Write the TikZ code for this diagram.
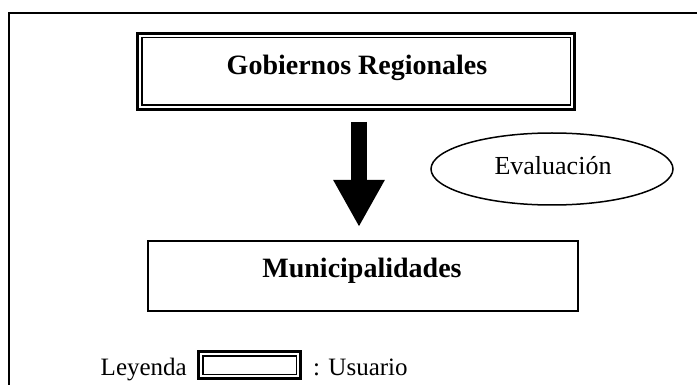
\documentclass[tikz,border=0pt]{standalone}
\usepackage{fontspec}
\setmainfont{Liberation Serif}
\usetikzlibrary{shapes.geometric,arrows.meta,calc}
\begin{document}
\begin{tikzpicture}[x=1pt,y=-1pt,
  dblouter/.style={draw, rectangle, line width=3pt, inner sep=0pt, outer sep=0pt},
  dblinner/.style={line width=1.5pt},
  plainbox/.style={draw, rectangle, line width=2pt, inner sep=0pt},
  titletext/.style={font=\fontsize{28}{30}\selectfont\bfseries, inner sep=0pt},
  evaltext/.style={font=\fontsize{26}{28}\selectfont, inner sep=0pt},
  legtext/.style={font=\fontsize{25}{27}\selectfont, inner sep=0pt},
  frameline/.style={line width=1.5pt}]
\useasboundingbox (0,0) rectangle (697,385);
% outer frame
\coordinate (fbl) at (9,386);
\coordinate (ftl) at (9,13);
\coordinate (ftr) at (698,13);
\draw[frameline] (fbl) -- (ftl) -- (ftr);
% boxes
\node[dblouter, minimum width=437pt, minimum height=76pt] (gob) at (356,71.5) {};
\draw[dblinner] ($(gob.south west)+(4.25,-4.25)$) rectangle ($(gob.north east)+(-4.25,4.25)$);
\node[titletext, anchor=base] (gobt) at (357,75) {Gobiernos Regionales};
\node[plainbox, minimum width=430pt, minimum height=70pt] (mun) at (363,276) {};
\node[titletext, anchor=base] (munt) at (362,277) {Municipalidades};
% ellipse
\node[draw, ellipse, line width=1.5pt, minimum width=242pt, minimum height=72pt, inner sep=0pt] (eva) at (552,169) {};
\node[evaltext, anchor=base] (evat) at (553,175) {Evaluación};
% arrow
\coordinate (as) at (359,122);
\coordinate (ae) at (359,227);
\draw[line width=16pt, -{Triangle[width=48pt,length=47pt]}] (as) -- (ae);
% legend
\node[legtext, anchor=base east] (ley) at (187,375) {Leyenda};
\node[dblouter, minimum width=102pt, minimum height=27pt] (legbox) at (249.5,365) {};
\draw[dblinner] ($(legbox.south west)+(4.25,-4.25)$) rectangle ($(legbox.north east)+(-4.25,4.25)$);
\node[legtext, anchor=base west] (usu) at (313,375) {: Usuario};
\end{tikzpicture}
\end{document}
